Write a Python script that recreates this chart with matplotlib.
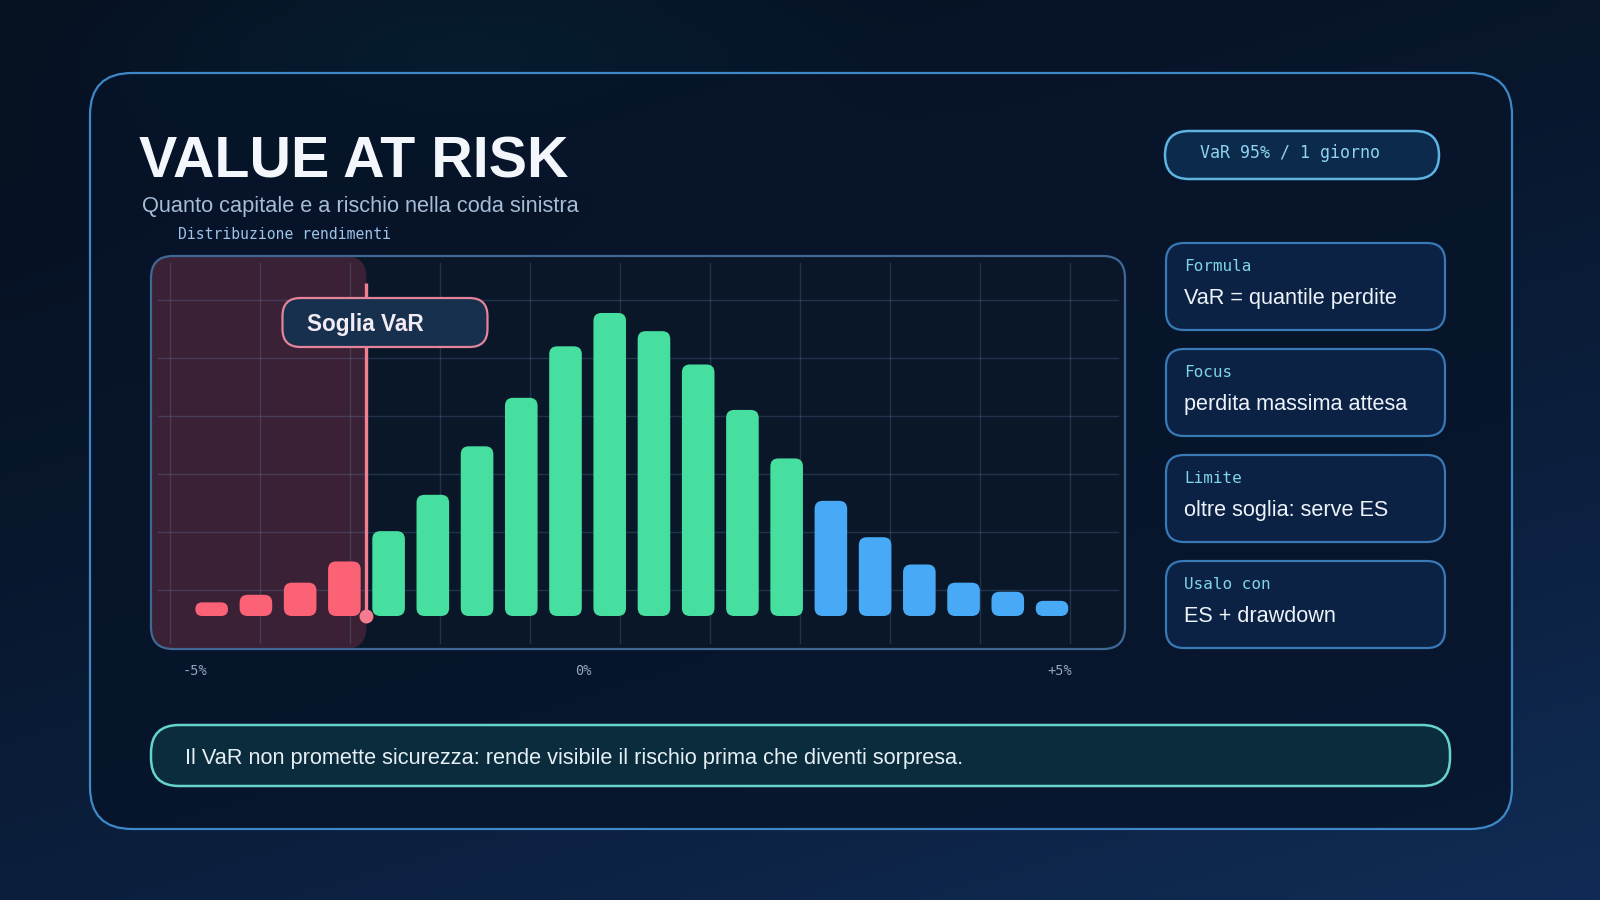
import numpy as np
import matplotlib.pyplot as plt
from matplotlib.patches import FancyBboxPatch

W, H = 1600, 900

# ---------------- dati ----------------
# frequenza (%) dei rendimenti giornalieri, 20 classi da -5% a +5%
freq = [0.45, 0.7, 1.1, 1.8, 2.8, 4.0, 5.6, 7.2, 8.9, 10.0,
        9.4, 8.3, 6.8, 5.2, 3.8, 2.6, 1.7, 1.1, 0.8, 0.5]
zona = ["coda"] * 4 + ["centro"] * 10 + ["destra"] * 6
soglia_var = 3.5          # confine tra coda sinistra e resto (indice classe)
tick_labels = ["-5%", "0%", "+5%"]

title = "VALUE AT RISK"
subtitle = "Quanto capitale e a rischio nella coda sinistra"
chart_label = "Distribuzione rendimenti"
badge = "VaR 95% / 1 giorno"
card_titles = ["Formula", "Focus", "Limite", "Usalo con"]
card_values = ["VaR = quantile perdite", "perdita massima attesa",
               "oltre soglia: serve ES", "ES + drawdown"]
footer = "Il VaR non promette sicurezza: rende visibile il rischio prima che diventi sorpresa."

COL = {"coda": "#fb6275", "centro": "#46df9f", "destra": "#48aaf6"}
SANS = ["Liberation Sans", "DejaVu Sans"]
MONO = ["DejaVu Sans Mono"]

# ---------------- figura ----------------
fig = plt.figure(figsize=(16, 9), dpi=100)
bg = fig.add_axes([0, 0, 1, 1], zorder=0)
bg.set_xlim(0, W)
bg.set_ylim(H, 0)
bg.axis("off")

# sfondo sfumato
yy, xx = np.mgrid[0:1:90j, 0:1:160j]
c_tl = np.array([6, 16, 32]) / 255
c_br = np.array([16, 44, 86]) / 255
t = np.clip(0.35 * xx + 0.65 * yy, 0, 1)[..., None] ** 1.5
img = c_tl * (1 - t) + c_br * t
glow = np.exp(-(((xx - 0.28) / 0.2) ** 2 + ((yy - 0.05) / 0.12) ** 2))[..., None]
img = img + glow * np.array([0, 10, 12]) / 255
bg.imshow(np.clip(img, 0, 1), extent=[0, W, H, 0], interpolation="bilinear",
          aspect="auto", zorder=0)


def rbox(x, y, w, h, r, fc, ec, lw=1.5, z=1, alpha=1.0, where=None):
    p = FancyBboxPatch((x, y), w, h, boxstyle=f"round,pad=0,rounding_size={r}",
                       fc=fc, ec=ec, lw=lw, zorder=z, alpha=alpha,
                       transform=bg.transData, clip_on=False)
    (where or bg).add_patch(p)
    return p


# card esterna
rbox(90, 73, 1422, 756, 42, "#071429", "none", z=1, alpha=0.8)
rbox(90, 73, 1422, 756, 42, "none", "#3f88c8", lw=1.6, z=2)

# titoli
bg.text(139, 177, title, family=SANS, fontsize=41.3, fontweight="bold",
        color="#f3f6fb", va="baseline", ha="left", zorder=3)
bg.text(142, 212, subtitle, family=SANS, fontsize=15.7, color="#a7bcd6",
        va="baseline", ha="left", zorder=3)
bg.text(178, 239, chart_label, family=MONO, fontsize=10.6, color="#9cc3e8",
        va="baseline", ha="left", zorder=3)

# badge in alto a destra
rbox(1165, 131, 274, 48, 24, "#0c2a4b", "#5cb4e2", lw=1.8, z=3)
bg.text(1200, 158, badge, family=MONO, fontsize=12, color="#8fd3f2",
        va="baseline", ha="left", zorder=4)

# schede laterali
for k, (lab, val) in enumerate(zip(card_titles, card_values)):
    top = 243 + k * 106
    rbox(1166, top, 279, 87, 18, "#0b2244", "#3879b6", lw=1.6, z=3)
    bg.text(1184, top + 28, lab, family=MONO, fontsize=11.5, color="#80d4e8",
            va="baseline", ha="left", zorder=4)
    bg.text(1184, top + 61, val, family=SANS, fontsize=15.6, color="#eef3fa",
            va="baseline", ha="left", zorder=4)

# banner finale
rbox(151, 725, 1299, 61, 28, "#0a2c3c", "#66d4ca", lw=1.8, z=3)
bg.text(185, 764, footer, family=SANS, fontsize=15.7, color="#e6eff4",
        va="baseline", ha="left", zorder=4)

# ---------------- pannello grafico ----------------
PX0, PX1, PY0, PY1 = 151, 1125, 256, 649
rbox(PX0, PY0, PX1 - PX0, PY1 - PY0, 22, "#0a1729", "none", z=2)

ax = fig.add_axes([PX0 / W, 1 - PY1 / H, (PX1 - PX0) / W, (PY1 - PY0) / H], zorder=1)
ax.set_facecolor("none")
ax.axis("off")

n = len(freq)
x = np.arange(n)
ax.set_xlim(-1.372, 20.65)
ax.set_ylim(-1.089, 11.88)

# scala pixel per unita' (per arrotondare gli angoli in modo uniforme)
px_x = (PX1 - PX0) / (ax.get_xlim()[1] - ax.get_xlim()[0])
px_y = (PY1 - PY0) / (ax.get_ylim()[1] - ax.get_ylim()[0])
aspect = px_x / px_y

# area della coda sinistra
x0l, x1l = ax.get_xlim()
y0l, y1l = ax.get_ylim()
ax.add_patch(FancyBboxPatch((x0l, y0l), soglia_var - x0l, y1l - y0l,
                            boxstyle=f"round,pad=0,rounding_size={22 / px_x}",
                            mutation_aspect=aspect, fc="#3a2136", ec="none",
                            zorder=0.5, clip_on=False))

# griglia (in pixel del pannello)
for gx in range(170, 1080, 90):
    ax.plot([gx, gx], [263, 643], color="#7ea6d8", alpha=0.2, lw=1,
            transform=bg.transData, zorder=1, clip_on=False)
for gy in range(300, 600, 58):
    ax.plot([158, 1118], [gy, gy], color="#7ea6d8", alpha=0.2, lw=1,
            transform=bg.transData, zorder=1, clip_on=False)

# barre arrotondate
bars = ax.bar(x, freq, width=0.737, color=[COL[z] for z in zona])
for b in bars:
    bx, by = b.get_x(), b.get_y()
    bw, bh = b.get_width(), b.get_height()
    r_px = min(8, bh * px_y / 2)
    ax.add_patch(FancyBboxPatch((bx, by), bw, bh,
                                boxstyle=f"round,pad=0,rounding_size={r_px / px_x}",
                                mutation_aspect=aspect, fc=b.get_facecolor(),
                                ec="none", zorder=3))
    b.set_visible(False)

# linea soglia VaR
ax.plot([soglia_var, soglia_var], [0, 11.0], color="#f07f93", lw=2.4,
        zorder=4, solid_capstyle="butt")
ax.plot([soglia_var], [0], "o", color="#f47c8e", ms=10, mec="none", zorder=5)

# etichetta soglia
vx = bg.transData.inverted().transform(ax.transData.transform((soglia_var, 0)))[0]
rbox(vx - 84, 298, 205, 49, 18, "#17304e", "#e3849a", lw=1.6, z=7, where=ax)
ax.text(vx - 59, 331, "Soglia VaR", family=SANS, fontsize=16.3,
        fontweight="bold", color="#f1ebf3", va="baseline", ha="left", zorder=8,
        transform=bg.transData, clip_on=False)

# bordo pannello sopra l'area colorata
rbox(PX0, PY0, PX1 - PX0, PY1 - PY0, 22, "none", "#3f6894", lw=1.6, z=6, where=ax)

# etichette asse x
for lab, tx in zip(tick_labels, [195, 583, 1060]):
    bg.text(tx, 671, lab, family=MONO, fontsize=9.8, color="#93a6bd",
            va="center", ha="center", zorder=4)

fig.savefig("out.png", dpi=100)
